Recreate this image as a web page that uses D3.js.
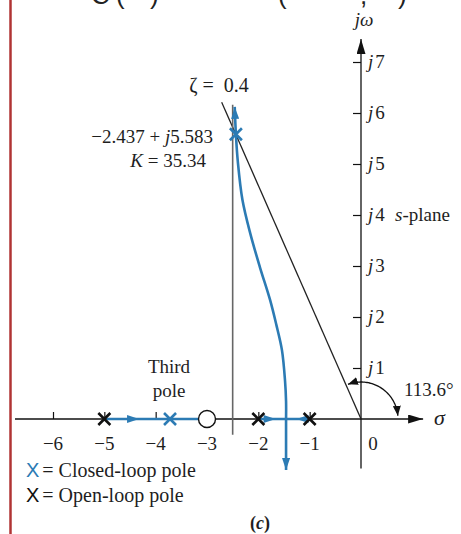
<!DOCTYPE html>
<html>
<head>
<meta charset="utf-8">
<script src="https://cdn.jsdelivr.net/npm/d3@7"></script>
<style>
  html, body { margin: 0; padding: 0; background: #fff; }
  svg { display: block; }
</style>
</head>
<body>
<svg id="chart" width="461" height="534"></svg>
<script>
// ---- data -------------------------------------------------------------
const realTicks = [-6, -5, -4, -3, -2, -1];
const realTickLabels = ["\u22126", "\u22125", "\u22124", "\u22123", "\u22122", "\u22121", "0"];
const imagTicks = [1, 2, 3, 4, 5, 6, 7];
const imagTickLabels = ["1", "2", "3", "4", "5", "6", "7"];

const openLoopPoles = [-5, -2, -1];
const openLoopZeros = [-3];
const dominantPole = { re: -2.437, im: 5.583, K: 35.34 };
const thirdPole = { re: -3.72, im: 0 };

const zeta = 0.4;
const zetaAngleDeg = 113.6;
const asymptote = -2.5;
const breakaway = -1.46;

// complex branch leaving the real axis at the breakaway point
const upperBranch = [
  [-1.46, 0], [-1.46, 0.35], [-1.48, 0.75], [-1.54, 1.35], [-1.65, 1.85],
  [-1.77, 2.33], [-1.97, 2.98], [-2.16, 3.65], [-2.31, 4.3], [-2.40, 5.05],
  [-2.437, 5.583], [-2.46, 6.12]
];
const lowerBranch = [[-1.46, 0], [-1.46, -1.0]];
// real-axis locus segments
const realSegments = [[-5, -3.16], [-2, -1]];
// direction arrows on the real axis: position and direction (+1 right, -1 left)
const realArrows = [[-4.44, 1], [-1.78, 1], [-1.14, -1]];

// ---- layout -----------------------------------------------------------
const svg = d3.select("#chart");
const x = d3.scaleLinear().domain([-6, 0]).range([53, 361]);
const y = d3.scaleLinear().domain([0, 7]).range([419, 62]);
const blue = "#2c7bb4";
const ink = "#1e1e1e";
const serif = "Liberation Serif, Times New Roman, serif";
const sans = "Liberation Sans, Arial, sans-serif";
const fs = 19;

const defs = svg.append("defs");
function arrowMarker(id, color, w, h) {
  defs.append("marker")
    .attr("id", id).attr("viewBox", `0 0 ${w} ${h}`)
    .attr("refX", w).attr("refY", h / 2)
    .attr("markerWidth", w).attr("markerHeight", h)
    .attr("markerUnits", "userSpaceOnUse")
    .attr("orient", "auto-start-reverse")
    .append("path").attr("d", `M0,0L${w},${h / 2}L0,${h}Z`).attr("fill", color);
}
arrowMarker("axisArrow", "#111", 15, 9);
arrowMarker("blueArrow", blue, 12, 8);
arrowMarker("arcArrow", "#111", 10, 8);

// left page border
svg.append("line").attr("x1", 10.5).attr("x2", 10.5).attr("y1", 0).attr("y2", 534)
  .attr("stroke", "#b03434").attr("stroke-width", 2.5);

// caption line above the figure, cut by the page edge
const capGlyphs = [["C", 91], ["(", 116], [")", 150], ["(", 278], [",", 360], [")", 398]];
svg.append("g").selectAll("text").data(capGlyphs).join("text")
  .attr("x", d => d[1]).attr("y", 4)
  .attr("font-family", sans).attr("font-size", 26).attr("fill", "#222")
  .text(d => d[0]);

// ---- axes -------------------------------------------------------------
svg.append("line")
  .attr("x1", 15).attr("x2", x(1.21)).attr("y1", y(0)).attr("y2", y(0))
  .attr("stroke", "#111").attr("stroke-width", 1.3)
  .attr("marker-end", "url(#axisArrow)");
svg.append("line")
  .attr("x1", x(0)).attr("x2", x(0)).attr("y1", y(-0.97)).attr("y2", y(7.45))
  .attr("stroke", "#111").attr("stroke-width", 1.3)
  .attr("marker-end", "url(#axisArrow)");

const xAxis = svg.append("g").attr("transform", `translate(0,${y(0)})`)
  .call(d3.axisTop(x).tickValues(realTicks).tickSize(7).tickFormat(""));
xAxis.select(".domain").remove();
xAxis.selectAll("line").attr("stroke", "#111").attr("stroke-width", 1.2);

const yAxis = svg.append("g").attr("transform", `translate(${x(0)},0)`)
  .call(d3.axisLeft(y).tickValues(imagTicks).tickSize(8).tickFormat(""));
yAxis.select(".domain").remove();
yAxis.selectAll("line").attr("stroke", "#111").attr("stroke-width", 1.2);

// real-axis tick labels
svg.append("g").selectAll("text").data(realTicks.concat([0])).join("text")
  .attr("x", d => d === 0 ? x(0) + 12 : x(d))
  .attr("y", y(0) + 31)
  .attr("text-anchor", "middle")
  .attr("font-family", serif).attr("font-size", fs).attr("fill", ink)
  .text((d, i) => realTickLabels[i]);

// imaginary-axis tick labels
const jl = svg.append("g").selectAll("text").data(imagTicks).join("text")
  .attr("x", x(0) + 7).attr("y", d => y(d) + 6)
  .attr("font-family", serif).attr("font-size", fs).attr("fill", ink);
jl.append("tspan").attr("font-style", "italic").text("j");
jl.append("tspan").attr("dx", 2).text((d, i) => imagTickLabels[i]);

// axis titles
svg.append("text").attr("x", x(0) + 3).attr("y", 26).attr("text-anchor", "middle")
  .attr("font-family", serif).attr("font-size", fs).attr("font-style", "italic").attr("fill", ink)
  .text("j\u03c9");
svg.append("text").attr("x", 434).attr("y", y(0) + 6)
  .attr("font-family", serif).attr("font-size", 22).attr("font-style", "italic").attr("fill", ink)
  .text("\u03c3");
const sp = svg.append("text").attr("x", 395).attr("y", y(4) + 6)
  .attr("font-family", serif).attr("font-size", fs).attr("fill", ink);
sp.append("tspan").attr("font-style", "italic").text("s");
sp.append("tspan").text("-plane");

// ---- constant-damping line and asymptote -------------------------------
const th = zetaAngleDeg * Math.PI / 180;
const rEnd = 6.78;
svg.append("line")
  .attr("x1", x(0)).attr("y1", y(0))
  .attr("x2", x(rEnd * Math.cos(th))).attr("y2", y(rEnd * Math.sin(th)))
  .attr("stroke", "#222").attr("stroke-width", 1.3);

svg.append("line")
  .attr("x1", x(asymptote)).attr("x2", x(asymptote))
  .attr("y1", y(6.16)).attr("y2", y(-0.31))
  .attr("stroke", "#666").attr("stroke-width", 1.6);

// angle arc between damping line and positive real axis
const arcR = 37;
const arcPts = d3.range(zetaAngleDeg - 3, 5, -2).concat([5]).map(a => {
  const t = a * Math.PI / 180;
  return [x(0) + arcR * Math.cos(t), y(0) - arcR * Math.sin(t)];
});
svg.append("path")
  .attr("d", d3.line()(arcPts))
  .attr("fill", "none").attr("stroke", "#111").attr("stroke-width", 1.3)
  .attr("marker-start", "url(#arcArrow)").attr("marker-end", "url(#arcArrow)");
svg.append("text").attr("x", 404).attr("y", 396)
  .attr("font-family", serif).attr("font-size", fs).attr("fill", ink)
  .text(zetaAngleDeg.toFixed(1) + "\u00b0");

// ---- root locus --------------------------------------------------------
const line = d3.line().x(d => x(d[0])).y(d => y(d[1])).curve(d3.curveCatmullRom);
svg.append("path").attr("d", line(upperBranch))
  .attr("fill", "none").attr("stroke", blue).attr("stroke-width", 2.6)
  .attr("marker-end", "url(#blueArrow)");
svg.append("path").attr("d", line(lowerBranch))
  .attr("fill", "none").attr("stroke", blue).attr("stroke-width", 2.6)
  .attr("marker-end", "url(#blueArrow)");
svg.append("g").selectAll("line").data(realSegments).join("line")
  .attr("x1", d => x(d[0])).attr("x2", d => x(d[1]))
  .attr("y1", y(0)).attr("y2", y(0))
  .attr("stroke", blue).attr("stroke-width", 2.6);
svg.append("g").selectAll("path").data(realArrows).join("path")
  .attr("d", d => {
    const cx = x(d[0]), cy = y(0), s = d[1];
    return `M${cx + s * 6},${cy}L${cx - s * 6},${cy - 4}L${cx - s * 6},${cy + 4}Z`;
  })
  .attr("fill", blue);

// zero
svg.append("g").selectAll("circle").data(openLoopZeros).join("circle")
  .attr("cx", d => x(d)).attr("cy", y(0)).attr("r", 8.5)
  .attr("fill", "#fff").attr("stroke", "#111").attr("stroke-width", 1.4);

// pole crosses
function cross(g, cx, cy, h, color, w) {
  g.append("path")
    .attr("d", `M${cx - h},${cy - h}L${cx + h},${cy + h}M${cx - h},${cy + h}L${cx + h},${cy - h}`)
    .attr("stroke", color).attr("stroke-width", w).attr("fill", "none");
}
const marks = svg.append("g");
openLoopPoles.forEach(p => cross(marks, x(p), y(0), 6, "#111", 2.6));
[thirdPole, dominantPole].forEach(p => cross(marks, x(p.re), y(p.im), 6, blue, 2.6));

// ---- annotations -------------------------------------------------------
svg.append("text").attr("x", 219).attr("y", 92).attr("text-anchor", "middle")
  .attr("font-family", serif).attr("font-size", 20).attr("fill", ink)
  .attr("xml:space", "preserve")
  .text("\u03b6 =  " + zeta);

const pl = svg.append("text").attr("x", 213).attr("y", y(dominantPole.im) + 9)
  .attr("text-anchor", "end").attr("font-family", serif).attr("font-size", fs).attr("fill", ink);
pl.append("tspan").text("\u2212" + Math.abs(dominantPole.re) + " + ");
pl.append("tspan").attr("font-style", "italic").text("j");
pl.append("tspan").text(dominantPole.im);
const kl = svg.append("text").attr("x", 206).attr("y", y(dominantPole.im) + 33)
  .attr("text-anchor", "end").attr("font-family", serif).attr("font-size", fs).attr("fill", ink);
kl.append("tspan").attr("font-style", "italic").text("K");
kl.append("tspan").text(" = " + dominantPole.K);

svg.append("text").attr("x", 169).attr("y", 373).attr("text-anchor", "middle")
  .attr("font-family", serif).attr("font-size", fs).attr("fill", ink).text("Third");
svg.append("text").attr("x", 169).attr("y", 397).attr("text-anchor", "middle")
  .attr("font-family", serif).attr("font-size", fs).attr("fill", ink).text("pole");

// legend
const legend = [
  { color: blue, label: "= Closed-loop pole", y: 477 },
  { color: "#111", label: "= Open-loop pole", y: 502 }
];
const lg = svg.append("g").selectAll("text").data(legend).join("text")
  .attr("x", 26).attr("y", d => d.y)
  .attr("font-family", serif).attr("font-size", 20).attr("fill", ink);
lg.append("tspan").attr("font-family", sans)
  .attr("font-size", 20).attr("fill", d => d.color).text("X");
lg.append("tspan").attr("dx", 3).text(d => d.label);

// panel label
const pc = svg.append("text").attr("x", 260).attr("y", 529).attr("text-anchor", "middle")
  .attr("font-family", serif).attr("font-size", 18).attr("font-weight", "bold").attr("fill", ink);
pc.append("tspan").text("(");
pc.append("tspan").attr("font-style", "italic").text("c");
pc.append("tspan").text(")");
</script>
</body>
</html>
